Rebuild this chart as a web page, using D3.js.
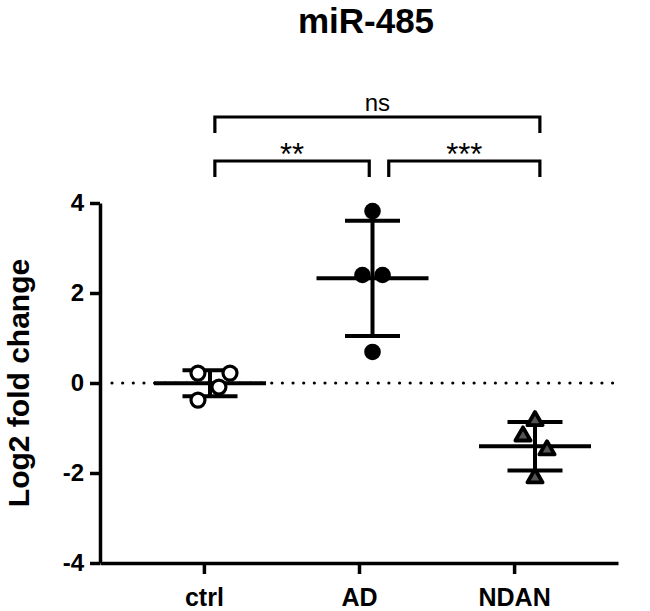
<!DOCTYPE html>
<html>
<head>
<meta charset="utf-8">
<script src="https://cdn.jsdelivr.net/npm/d3@7"></script>
<style>
  body { margin: 0; background: #fff; }
  text { font-family: "Liberation Sans", Arial, sans-serif; }
</style>
</head>
<body>
<div class="canvas"></div>
<script>
// Data
const groups = ['ctrl', 'AD', 'NDAN'];
const ctrlValues = [0.22, 0.22, -0.09, -0.38];
const adValues = [3.82, 2.40, 2.40, 0.69];
const ndanValues = [-0.84, -1.18, -1.49, -2.11];
// horizontal scatter of points, in category units
const ctrlJitter = [-0.074, 0.123, 0.055, -0.074];
const adJitter = [0, -0.062, 0.062, 0];
const ndanJitter = [0, -0.074, 0.074, 0];
const yTicks = [-4, -2, 0, 2, 4];
const comparisons = [
    {from: 0.03, to: 0.98, level: 0, label: '**'},
    {from: 1.1, to: 2.03, level: 0, label: '***'},
    {from: 0.03, to: 2.03, level: 1, label: 'ns'}
];

const series = [
    {name: 'ctrl', values: ctrlValues, jitter: ctrlJitter},
    {name: 'AD', values: adValues, jitter: adJitter},
    {name: 'NDAN', values: ndanValues, jitter: ndanJitter}
];

// Graph set up
const svgWidth = 650;
const svgHeight = 611;
const margin = {top: 203, right: 32, bottom: 48, left: 100};
const graphWidth = svgWidth - margin.left - margin.right;
const graphHeight = svgHeight - margin.top - margin.bottom;

const svg = d3.select('.canvas')
    .append('svg')
    .attr('width', svgWidth)
    .attr('height', svgHeight);

const graph = svg.append('g')
    .attr('transform', `translate(${margin.left},${margin.top})`);

// Scales
const x = d3.scalePoint().domain(groups).range([0, graphWidth]).padding(0.67);
const xData = d3.scaleLinear().domain([0, 2]).range([110, 435]);
const y = d3.scaleLinear().domain([-4, 4]).range([graphHeight, 0]);

// Axes
const xAxis = d3.axisBottom(x).tickSize(11).tickSizeOuter(0).tickPadding(8);
const yAxis = d3.axisLeft(y)
    .tickValues(yTicks)
    .tickFormat(d => String(d))
    .tickSize(10)
    .tickSizeOuter(0)
    .tickPadding(6);

const xAxisGroup = graph.append('g')
    .attr('transform', `translate(0,${graphHeight})`)
    .call(xAxis);
const yAxisGroup = graph.append('g').call(yAxis);

[xAxisGroup, yAxisGroup].forEach(g => {
    g.select('.domain').attr('stroke', '#000').attr('stroke-width', 3.5);
    g.selectAll('.tick line').attr('stroke', '#000').attr('stroke-width', 3.5);
    g.selectAll('.tick text')
        .attr('fill', '#000')
        .style('font-family', '"Liberation Sans", Arial, sans-serif')
        .style('font-weight', 'bold');
});
xAxisGroup.selectAll('.tick text').style('font-size', '25px').attr('dy', '0.95em');
yAxisGroup.selectAll('.tick text').style('font-size', '24px');

// Zero reference line (dotted)
graph.append('line')
    .attr('x1', 12)
    .attr('x2', graphWidth)
    .attr('y1', y(0))
    .attr('y2', y(0))
    .attr('stroke', '#000')
    .attr('stroke-width', 3.2)
    .attr('stroke-linecap', 'round')
    .attr('stroke-dasharray', '0 10.65');

// Mean and SD bars
series.forEach((s, i) => {
    const mean = d3.mean(s.values);
    const sd = d3.deviation(s.values);
    const cx = xData(i);
    const g = graph.append('g').attr('stroke', '#000').attr('stroke-width', 4);

    g.append('line')
        .attr('x1', cx).attr('x2', cx)
        .attr('y1', y(mean + sd)).attr('y2', y(mean - sd));
    [mean + sd, mean - sd].forEach(v => {
        g.append('line')
            .attr('x1', cx - 27.5).attr('x2', cx + 27.5)
            .attr('y1', y(v)).attr('y2', y(v));
    });
    g.append('line')
        .attr('x1', cx - 56).attr('x2', cx + 56)
        .attr('y1', y(mean)).attr('y2', y(mean));
});

// Points
const ctrl = series[0];
graph.selectAll('circle.ctrl')
    .data(ctrl.values)
    .enter()
    .append('circle')
        .attr('class', 'ctrl')
        .attr('cx', (d, i) => xData(0 + ctrl.jitter[i]))
        .attr('cy', d => y(d))
        .attr('r', 7)
        .attr('fill', '#fff')
        .attr('stroke', '#000')
        .attr('stroke-width', 3.2);

const ad = series[1];
graph.selectAll('circle.ad')
    .data(ad.values)
    .enter()
    .append('circle')
        .attr('class', 'ad')
        .attr('cx', (d, i) => xData(1 + ad.jitter[i]))
        .attr('cy', d => y(d))
        .attr('r', 8.3)
        .attr('fill', '#000');

const ndan = series[2];
const triangle = d3.symbol().type(d3.symbolTriangle).size(100);
graph.selectAll('path.ndan')
    .data(ndan.values)
    .enter()
    .append('path')
        .attr('class', 'ndan')
        .attr('d', triangle)
        .attr('transform', (d, i) => `translate(${xData(2 + ndan.jitter[i])},${y(d)})`)
        .attr('fill', '#555')
        .attr('stroke', '#000')
        .attr('stroke-width', 3.8)
        .attr('stroke-linejoin', 'round');

// Significance brackets (drawn above the plot area)
const bracketTop = [161, 117];
comparisons.forEach(c => {
    const x1 = xData(c.from) + margin.left;
    const x2 = xData(c.to) + margin.left;
    const by = bracketTop[c.level];
    svg.append('path')
        .attr('d', `M${x1},${by + 16}V${by}H${x2}V${by + 16}`)
        .attr('fill', 'none')
        .attr('stroke', '#000')
        .attr('stroke-width', 3.2);
    const isStars = c.label !== 'ns';
    svg.append('text')
        .attr('x', (x1 + x2) / 2)
        .attr('y', isStars ? by + 4 : by - 6)
        .attr('text-anchor', 'middle')
        .style('font-size', isStars ? '31px' : '24px')
        .text(c.label);
});

// Title
svg.append('text')
    .attr('x', 366)
    .attr('y', 33)
    .attr('text-anchor', 'middle')
    .style('font-size', '35px')
    .style('font-weight', 'bold')
    .text('miR-485');

// Y axis label
svg.append('text')
    .attr('transform', `translate(29,${margin.top + y(0)}) rotate(-90)`)
    .attr('text-anchor', 'middle')
    .style('font-size', '30px')
    .style('font-weight', 'bold')
    .text('Log2 fold change');
</script>
</body>
</html>
